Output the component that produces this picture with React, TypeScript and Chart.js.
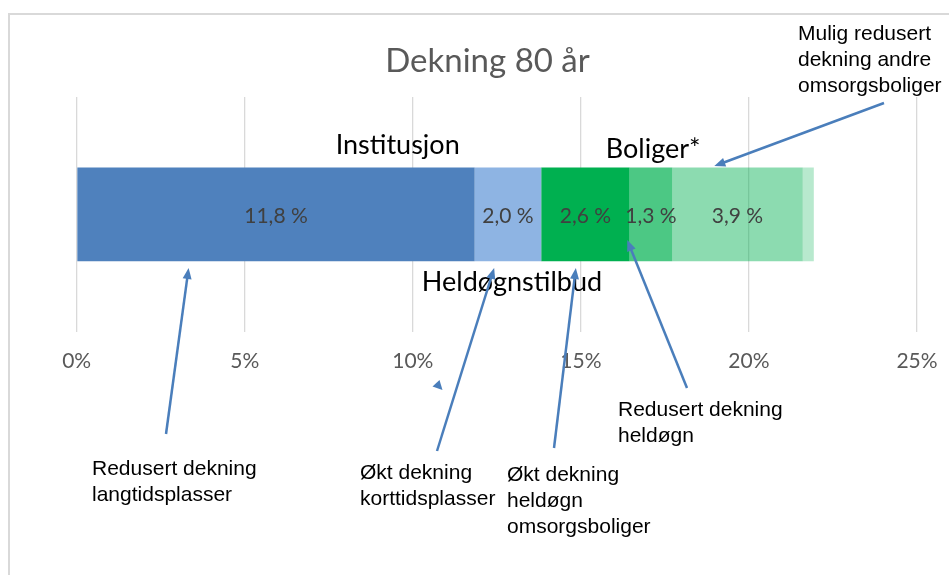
import React, { useEffect, useRef } from "react";
import { Chart, registerables } from "chart.js";

Chart.register(...registerables);

// ---- data ----
const categories = [""];
const seriesNames = [
  "Institusjon langtid",
  "Institusjon korttid",
  "Heldøgn omsorgsboliger",
  "Redusert heldøgn",
  "Andre omsorgsboliger",
  "Mulig redusert",
];
const seriesValues = [11.84, 1.98, 2.63, 1.27, 3.88, 0.33];
const seriesLabels = ["11,8 %", "2,0 %", "2,6 %", "1,3 %", "3,9 %", ""];
const tickValues = [0, 5, 10, 15, 20, 25];
const titleText = "Dekning 80 år";
const groupTexts = ["Institusjon", "Boliger*", "Heldøgnstilbud"];
const calloutTexts = [
  ["Redusert dekning", "langtidsplasser"],
  ["Økt dekning", "korttidsplasser"],
  ["Økt dekning", "heldøgn", "omsorgsboliger"],
  ["Redusert dekning", "heldøgn"],
  ["Mulig redusert", "dekning andre", "omsorgsboliger"],
];

// ---- styling (not data) ----
const colors = [
  "#4F81BD",
  "#8EB4E3",
  "#00B050",
  "rgba(0,176,80,0.70)",
  "rgba(0,176,80,0.45)",
  "rgba(0,176,80,0.28)",
];
const CAL = "Lato, 'Open Sans', sans-serif";
const ARIAL = "'Liberation Sans', Arial, sans-serif";

// group text placement: x in axis units (%), y baseline in px
const groupPos = [
  { x: 9.55, y: 154 },
  { x: 17.15, y: 158 },
  { x: 12.95, y: 291 },
];
// callouts: left x (px), first baseline (px)
const calloutPos = [
  { x: 92, y: 475 },
  { x: 360, y: 479 },
  { x: 507, y: 481 },
  { x: 618, y: 416 },
  { x: 798, y: 40 },
];
// arrows: tail px, tip in axis units (%) for x and px for y
const arrows = [
  { tx: 166, ty: 434, hx: 3.33, hy: 268 },
  { tx: 437, ty: 451, hx: 12.42, hy: 268 },
  { tx: 554, ty: 448, hx: 14.85, hy: 268 },
  { tx: 687, ty: 388, hx: 16.38, hy: 240 },
  { tx: 884, ty: 103, hx: 18.97, hy: 166 },
];

function drawArrowHead(ctx: CanvasRenderingContext2D, x: number, y: number, ang: number, len: number, w: number) {
  ctx.beginPath();
  ctx.moveTo(x, y);
  ctx.lineTo(x - len * Math.cos(ang) + (w / 2) * Math.sin(ang), y - len * Math.sin(ang) - (w / 2) * Math.cos(ang));
  ctx.lineTo(x - len * Math.cos(ang) - (w / 2) * Math.sin(ang), y - len * Math.sin(ang) + (w / 2) * Math.cos(ang));
  ctx.closePath();
  ctx.fill();
}

const overlayPlugin = {
  id: "overlay",
  beforeDraw(chart: any) {
    const ctx = chart.ctx as CanvasRenderingContext2D;
    ctx.save();
    ctx.fillStyle = "#ffffff";
    ctx.fillRect(0, 0, chart.width, chart.height);
    ctx.strokeStyle = "#D9D9D9";
    ctx.lineWidth = 2;
    ctx.beginPath();
    ctx.moveTo(9, chart.height);
    ctx.lineTo(9, 14);
    ctx.lineTo(chart.width, 14);
    ctx.stroke();
    ctx.restore();
  },
  afterDatasetsDraw(chart: any) {
    const ctx = chart.ctx as CanvasRenderingContext2D;
    ctx.save();
    ctx.font = `21px ${CAL}`;
    ctx.fillStyle = "#404040";
    ctx.textAlign = "center";
    ctx.textBaseline = "middle";
    chart.data.datasets.forEach((ds: any, i: number) => {
      const meta = chart.getDatasetMeta(i);
      const el = meta.data[0];
      if (!el || !seriesLabels[i]) return;
      const x = (el.x + el.base) / 2;
      ctx.fillText(seriesLabels[i], x, el.y + 2);
    });
    ctx.restore();
  },
  afterDraw(chart: any) {
    const ctx = chart.ctx as CanvasRenderingContext2D;
    const xs = chart.scales.x;
    ctx.save();
    // title
    ctx.fillStyle = "#595959";
    ctx.font = `33px ${CAL}`;
    ctx.textAlign = "center";
    ctx.textBaseline = "alphabetic";
    ctx.fillText(titleText, 487.5, 72);
    // group texts
    ctx.fillStyle = "#000000";
    ctx.font = `27px ${CAL}`;
    groupTexts.forEach((t, i) => {
      ctx.fillText(t, xs.getPixelForValue(groupPos[i].x), groupPos[i].y);
    });
    // arrows
    ctx.strokeStyle = "#4A7EBB";
    ctx.fillStyle = "#4A7EBB";
    ctx.lineWidth = 2.5;
    arrows.forEach((a) => {
      const hx = xs.getPixelForValue(a.hx);
      const hy = a.hy;
      const ang = Math.atan2(hy - a.ty, hx - a.tx);
      const ex = hx - 8 * Math.cos(ang);
      const ey = hy - 8 * Math.sin(ang);
      ctx.beginPath();
      ctx.moveTo(a.tx, a.ty);
      ctx.lineTo(ex, ey);
      ctx.stroke();
      drawArrowHead(ctx, hx, hy, ang, 11, 9);
    });
    // stray small arrowhead
    ctx.beginPath();
    ctx.moveTo(439.5, 380);
    ctx.lineTo(432.5, 386.5);
    ctx.lineTo(442.5, 390);
    ctx.closePath();
    ctx.fill();
    // callout texts
    ctx.fillStyle = "#000000";
    ctx.font = `21px ${ARIAL}`;
    ctx.textAlign = "left";
    calloutTexts.forEach((lines, i) => {
      lines.forEach((ln, j) => {
        ctx.fillText(ln, calloutPos[i].x, calloutPos[i].y + j * 26);
      });
    });
    ctx.restore();
  },
};

export default function App() {
  const ref = useRef<HTMLCanvasElement | null>(null);
  useEffect(() => {
    if (!ref.current) return;
    const chart = new Chart(ref.current, {
      type: "bar",
      data: {
        labels: categories,
        datasets: seriesValues.map((v, i) => ({
          label: seriesNames[i],
          data: [v],
          backgroundColor: colors[i],
          borderWidth: 0,
          barPercentage: 1,
          categoryPercentage: 0.4,
        })),
      },
      options: {
        indexAxis: "y",
        animation: false,
        responsive: true,
        maintainAspectRatio: false,
        layout: { padding: { left: 76.7, right: 32, top: 97, bottom: 184 } },
        plugins: {
          legend: { display: false },
          title: { display: false },
          tooltip: { enabled: false },
        },
        scales: {
          x: {
            stacked: true,
            min: 0,
            max: 25,
            afterBuildTicks: (axis: any) => {
              axis.ticks = tickValues.map((v) => ({ value: v }));
            },
            afterFit: (axis: any) => {
              axis.paddingLeft = 0;
              axis.paddingRight = 0;
            },
            ticks: {
              callback: (v: any) => `${v}%`,
              color: "#595959",
              font: { family: CAL, size: 21 },
              padding: 17,
              maxRotation: 0,
              autoSkip: false,
            },
            grid: { color: "#D9D9D9", lineWidth: 1.3, drawTicks: false },
            border: { display: false },
          },
          y: { stacked: true, display: false },
        },
      },
      plugins: [overlayPlugin],
    });
    return () => chart.destroy();
  }, []);
  return (
    <div style={{ position: "fixed", left: 0, top: 0, width: 949, height: 575, background: "#fff" }}>
      <canvas ref={ref} width={949} height={575} />
    </div>
  );
}
